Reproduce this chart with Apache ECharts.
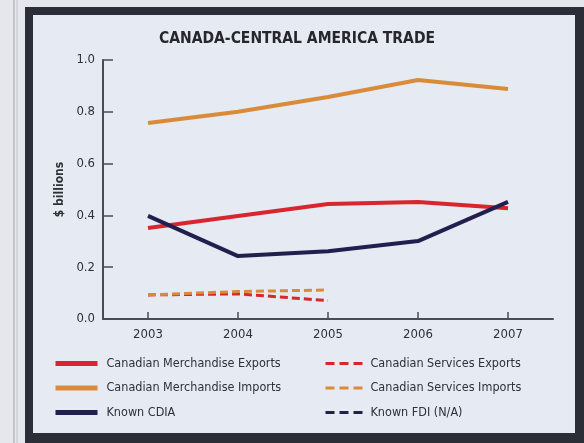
<!DOCTYPE html>
<html>
<head>
<meta charset="utf-8">
<script src="https://cdn.jsdelivr.net/npm/echarts@6/dist/echarts.min.js"></script>
<style>
html,body{margin:0;padding:0;background:#e6e7ec;}
#c{width:584px;height:443px;}
</style>
</head>
<body>
<div id="c"></div>
<script>
var categories = ['2003','2004','2005','2006','2007'];
var merchExports = [0.351, 0.398, 0.444, 0.452, 0.428];
var merchImports = [0.757, 0.800, 0.857, 0.923, 0.888];
var knownCDIA = [0.398, 0.243, 0.262, 0.301, 0.452];
var servicesExports = [0.093, 0.097, 0.071, null, null];
var servicesImports = [0.093, 0.106, 0.112, null, null];
var knownFDI = [null, null, null, null, null];
var yTicks = [0, 0.2, 0.4, 0.6, 0.8, 1.0];

var FONT = "'Liberation Sans Narrow', 'DejaVu Sans Condensed', 'Arial Narrow', sans-serif";
var RED = '#d8262e', ORANGE = '#d98b3a', NAVY = '#221f4f';

var chart = echarts.init(document.getElementById('c'));
function lineSeries(name, data, color, dashed) {
  return {
    name: name, type: 'line', data: data, symbol: 'none', silent: true,
    connectNulls: false,
    lineStyle: { color: color, width: dashed ? 3 : 4, type: dashed ? [8, 4] : 'solid' },
    itemStyle: { color: color }
  };
}
function legendItem(name, color, dashed) {
  return {
    name: name,
    itemStyle: { opacity: 0 },
    lineStyle: { color: color, width: dashed ? 3 : 5, type: dashed ? [9, 5] : 'solid', opacity: 1 }
  };
}
chart.setOption({
  animation: false,
  backgroundColor: 'transparent',
  graphic: [
    { type: 'line', shape: { x1: 14, y1: 0, x2: 14, y2: 443 }, style: { stroke: '#9ea0a8', lineWidth: 1 }, z: -10 },
    { type: 'line', shape: { x1: 17, y1: 0, x2: 17, y2: 443 }, style: { stroke: '#c2c4cb', lineWidth: 1 }, z: -10 },
    { type: 'rect', shape: { x: 25, y: 7, width: 570, height: 450 }, style: { fill: '#2b2e37' }, z: -10 },
    { type: 'rect', shape: { x: 33, y: 15, width: 542, height: 418 }, style: { fill: '#e6eaf3' }, z: -9 }
  ],
  title: {
    text: 'CANADA-CENTRAL AMERICA TRADE',
    left: 297, top: 31, textAlign: 'center', padding: 0,
    textStyle: { fontFamily: FONT, fontWeight: 'bold', fontSize: 15.5, color: '#26262c' }
  },
  grid: { left: 103, right: 31, top: 60, bottom: 124, containLabel: false },
  legend: [
    {
      orient: 'vertical', left: 53, top: 357, itemWidth: 42, itemHeight: 14, itemGap: 11.5,
      padding: 0, selectedMode: false,
      textStyle: { fontFamily: FONT, fontSize: 12.5, color: '#2f3038', padding: [0, 0, 0, 4] },
      data: [
        legendItem('Canadian Merchandise Exports', RED, false),
        legendItem('Canadian Merchandise Imports', ORANGE, false),
        legendItem('Known CDIA', NAVY, false)
      ]
    },
    {
      orient: 'vertical', left: 324, top: 357, itemWidth: 38, itemHeight: 14, itemGap: 11.5,
      padding: 0, selectedMode: false,
      textStyle: { fontFamily: FONT, fontSize: 12.5, color: '#2f3038', padding: [0, 0, 0, 2] },
      data: [
        legendItem('Canadian Services Exports', RED, true),
        legendItem('Canadian Services Imports', ORANGE, true),
        legendItem('Known FDI (N/A)', NAVY, true)
      ]
    }
  ],
  xAxis: {
    type: 'category', data: categories, boundaryGap: true,
    axisLine: { lineStyle: { color: '#4a4c55', width: 2 } },
    axisTick: { show: true, inside: true, alignWithLabel: true, length: 7, lineStyle: { color: '#4a4c55', width: 1.5 } },
    axisLabel: { fontFamily: FONT, fontSize: 13, color: '#2f3038', margin: 9 },
    splitLine: { show: false }
  },
  yAxis: {
    type: 'value', min: 0, max: 1, interval: 0.2,
    name: '$ billions', nameLocation: 'middle', nameGap: 34, nameRotate: 90,
    nameTextStyle: { fontFamily: FONT, fontSize: 12, fontWeight: 'bold', color: '#2f3038' },
    axisLine: { show: true, lineStyle: { color: '#4a4c55', width: 2 } },
    axisTick: { show: true, inside: true, length: 10, lineStyle: { color: '#4a4c55', width: 1.5 } },
    axisLabel: { fontFamily: FONT, fontSize: 13, color: '#2f3038', margin: 8,
      formatter: function (v) { return v.toFixed(1); } },
    splitLine: { show: false }
  },
  series: [
    lineSeries('Canadian Merchandise Exports', merchExports, RED, false),
    lineSeries('Canadian Merchandise Imports', merchImports, ORANGE, false),
    lineSeries('Known CDIA', knownCDIA, NAVY, false),
    lineSeries('Canadian Services Exports', servicesExports, RED, true),
    lineSeries('Canadian Services Imports', servicesImports, ORANGE, true),
    lineSeries('Known FDI (N/A)', knownFDI, NAVY, true)
  ]
});
</script>
</body>
</html>
